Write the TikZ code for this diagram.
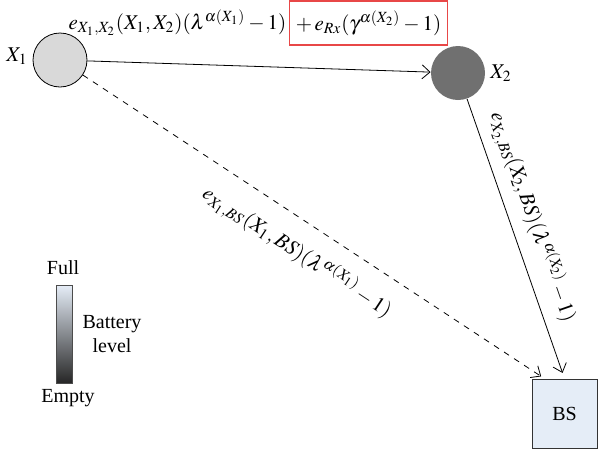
\documentclass[tikz,border=0pt]{standalone}
\usepackage{mathptmx}
\usepackage{fontspec}
\setmainfont{Liberation Serif}
\usetikzlibrary{arrows.meta}
\definecolor{gainred}{rgb}{0.91,0.28,0.28}
\definecolor{bsfill}{rgb}{0.90,0.93,0.97}
\definecolor{nodetwo}{rgb}{0.44,0.44,0.44}
\begin{document}
\begin{tikzpicture}[x=0.5pt,y=-0.5pt,
  sensor/.style={circle,minimum size=27pt,inner sep=0pt},
  link/.style={-{Straight Barb[length=4pt,width=7pt]},thin},
  linklabel/.style={font=\fontsize{10.5}{12}\selectfont}]
\useasboundingbox (0,0) rectangle (598,450);
\node[sensor,draw,fill=gray!30] (X1) at (60,60) {};
\node[sensor,fill=nodetwo] (X2) at (458,73) {};
\node[draw=black!80,fill=bsfill,minimum width=32.5pt,minimum height=34.5pt] (BS) at (564.5,413.5) {BS};
\node[linklabel] (X1name) at (17,56) {$X_1$};
\node[linklabel] (X2name) at (501,73) {$X_2$};
\node[draw=gainred,line width=0.6pt,linklabel,minimum width=76.5pt,minimum height=22pt] (gain) at (368.5,23) {$+\,e_{Rx}(\gamma^{\alpha(X_2)}-1)$};
\node[linklabel,anchor=east,inner sep=1pt] (cost) at (gain.west) {$e_{X_1,X_2}(X_1,X_2)(\lambda^{\alpha(X_1)}-1)$};
\draw[link] (X1) -- (X2);
\draw[link,dashed,shorten >=2pt] (X1) -- ([xshift=-10pt]BS.north)
  node[linklabel,midway,sloped,below=5pt] (d1) {$e_{X_1,BS}(X_1,BS)(\lambda^{\alpha(X_1)}-1)$};
\draw[link,shorten >=3pt] (X2) -- (BS.north)
  node[linklabel,pos=0.45,sloped,above=2pt] (d2) {$e_{X_2,BS}(X_2,BS)(\lambda^{\alpha(X_2)}-1)$};
% battery scale
\node[draw=black!70,top color=bsfill,bottom color=black!85,minimum width=8pt,minimum height=49pt,inner sep=0pt] (bar) at (64,334) {};
\node (full) at (63,268) {Full};
\node (empty) at (68,398) {Empty};
\node[align=center] (level) at (112,334) {Battery\\level};
\end{tikzpicture}
\end{document}
